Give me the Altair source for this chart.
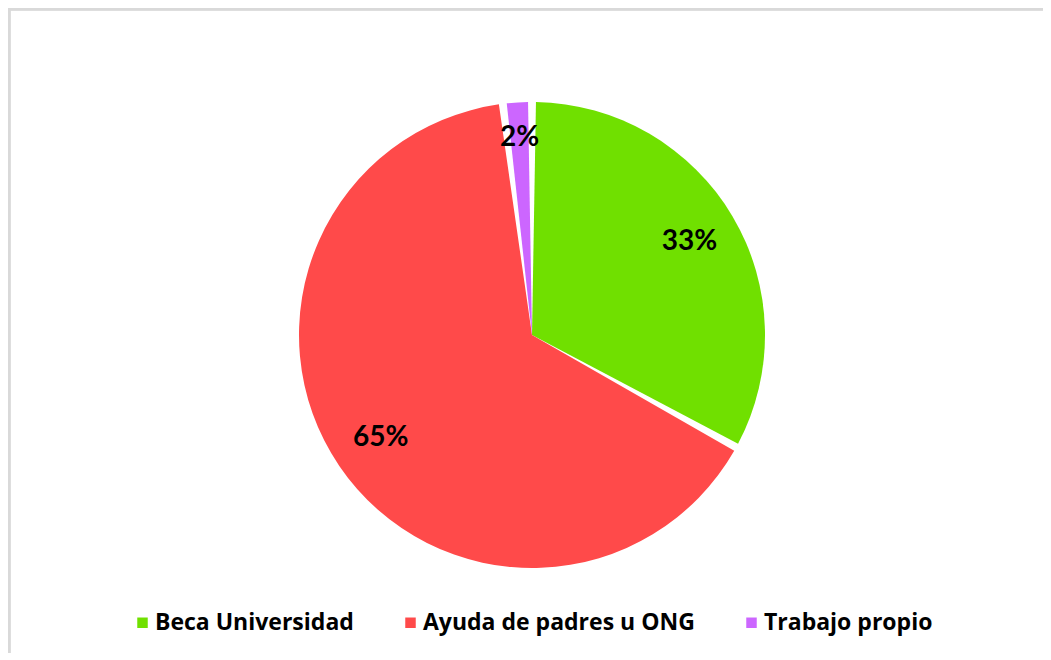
import math
import altair as alt
import pandas as pd

categories = ["Beca Universidad", "Ayuda de padres u ONG", "Trabajo propio"]
values = [33, 65, 2]
labels = ["33%", "65%", "2%"]
order_idx = [0, 1, 2]
colors = ["#70E000", "#FF4A4A", "#CC66FF"]

df = pd.DataFrame({"cat": categories, "value": values, "label": labels, "idx": order_idx})

theta_scale = alt.Scale(domain=[0, 100], range=[0, 2 * math.pi])
cx, cy = 524, 327
W, H = 1035, 645

base = alt.Chart(df).transform_window(
    cum="sum(value)", sort=[alt.SortField("idx")], frame=[None, 0]
).transform_calculate(
    start="datum.cum - datum.value", mid="datum.cum - datum.value / 2"
)

arc = base.mark_arc(outerRadius=233, padAngle=0.034).encode(
    theta=alt.Theta("start:Q", scale=theta_scale),
    theta2="cum:Q",
    color=alt.Color(
        "cat:N",
        scale=alt.Scale(domain=categories, range=colors),
        legend=alt.Legend(
            title=None,
            orient="none",
            legendX=123,
            legendY=603,
            direction="horizontal",
            symbolType="square",
            symbolSize=110,
            symbolStrokeWidth=0,
            labelFont="Open Sans",
            labelFontSize=23,
            labelFontWeight="bold",
            labelColor="black",
            labelOffset=1,
            labelLimit=0,
            columnPadding=45,
        ),
    ),
    x=alt.value(cx),
    y=alt.value(cy),
)

text_big = base.transform_filter("datum.value >= 5").mark_text(
    radius=183, font="Lato", fontSize=28, fontWeight="bold", color="black"
).encode(
    theta=alt.Theta("mid:Q", scale=theta_scale),
    text="label:N",
    x=alt.value(cx),
    y=alt.value(cy),
)

text_small = base.transform_filter("datum.value < 5").mark_text(
    radius=197, font="Lato", fontSize=28, fontWeight="bold", color="black"
).encode(
    theta=alt.Theta("mid:Q", scale=theta_scale),
    text="label:N",
    x=alt.value(cx),
    y=alt.value(cy),
)

frame_top = base.mark_rule(color="#d9d9d9", strokeWidth=3).encode(
    x=alt.value(0), x2=alt.value(W), y=alt.value(1)
)
frame_left = base.mark_rule(color="#d9d9d9", strokeWidth=3).encode(
    x=alt.value(1), y=alt.value(0), y2=alt.value(H)
)

chart = alt.layer(frame_top, frame_left, arc, text_big, text_small).properties(
    width=W, height=H, padding=0, autosize="none", background="white"
).configure_view(stroke=None)

chart.save("out.html", embed_options={"renderer": "svg", "actions": False})
